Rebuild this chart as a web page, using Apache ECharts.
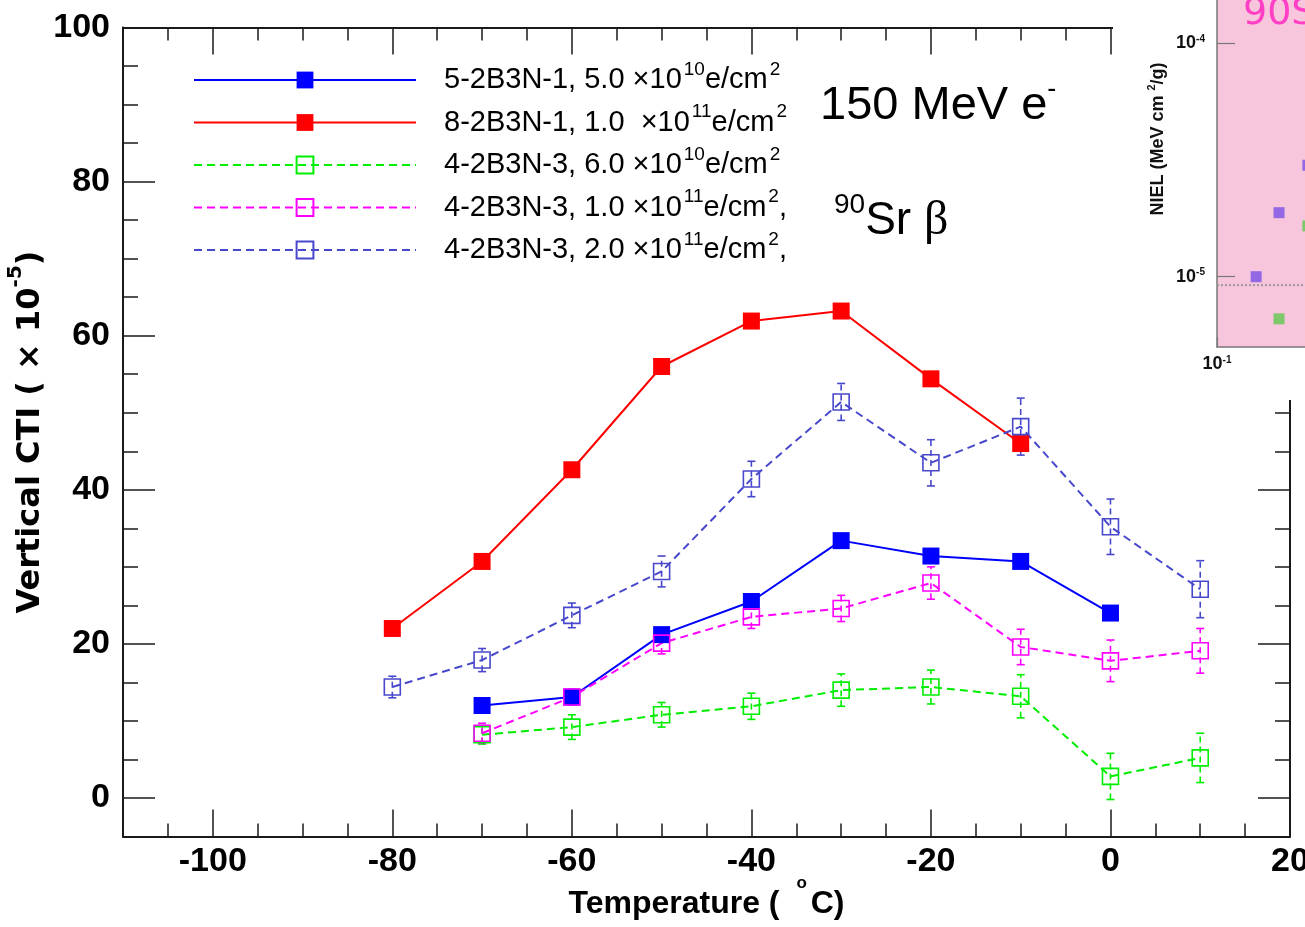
<!DOCTYPE html>
<html><head><meta charset="utf-8">
<script src="https://cdn.jsdelivr.net/npm/echarts@6/dist/echarts.min.js"></script>
<style>html,body{margin:0;padding:0;background:#fff}#c{width:1305px;height:927px}</style>
</head><body><div id="c"></div>
<script>
// ---------- data ----------
const temps = [-80, -70, -60, -50, -40, -30, -20, -10, 0, 10];
const blueVals    = [null, 12.0, 13.1, 21.2, 25.5, 33.4, 31.4, 30.7, 24.0, null];
const redVals     = [22.0, 30.7, 42.6, 56.0, 61.9, 63.2, 54.4, 46.0, null, null];
const greenVals   = [null, 8.2, 9.2, 10.8, 11.9, 14.0, 14.4, 13.2, 2.8, 5.2];
const greenErr    = [null, 1.2, 1.6, 1.6, 1.7, 2.1, 2.2, 2.8, 3.0, 3.2];
const magentaVals = [null, 8.4, 13.1, 20.1, 23.5, 24.6, 27.9, 19.6, 17.8, 19.1];
const magentaErr  = [null, 1.3, 1.0, 1.4, 1.5, 1.7, 2.1, 2.3, 2.7, 2.9];
const slateVals   = [14.4, 17.9, 23.7, 29.4, 41.4, 51.4, 43.5, 48.2, 35.2, 27.1];
const slateErr    = [1.4, 1.5, 1.6, 2.0, 2.3, 2.4, 3.0, 3.7, 3.6, 3.7];
const seriesNames = [
  '5-2B3N-1, 5.0 ×10^10e/cm^2',
  '8-2B3N-1, 1.0 ×10^11e/cm^2',
  '4-2B3N-3, 6.0 ×10^10e/cm^2',
  '4-2B3N-3, 1.0 ×10^11e/cm^2,',
  '4-2B3N-3, 2.0 ×10^11e/cm^2,'
];
const legendLabels = [
  '5-2B3N-1, 5.0 ×10{sup|10}e/cm{sup|2}',
  '8-2B3N-1, 1.0  ×10{sup|11}e/cm{sup|2}',
  '4-2B3N-3, 6.0 ×10{sup|10}e/cm{sup|2}',
  '4-2B3N-3, 1.0 ×10{sup|11}e/cm{sup|2},',
  '4-2B3N-3, 2.0 ×10{sup|11}e/cm{sup|2},'
];
// inset (NIEL plot fragment)
const nielPurpleE = [0.2, 0.3, 0.5];
const nielPurple  = [1.0e-5, 1.88e-5, 3.0e-5];
const nielGreenE  = [0.3, 0.5];
const nielGreen   = [6.6e-6, 1.65e-5];
const nielRefE    = [0.1, 10];
const nielRef     = 9.2e-6;

// ---------- helpers ----------
const AX = '#1a1a1a';
const boldFont = '"Liberation Sans",Arial,sans-serif';
const C = { blue: '#0000ff', red: '#ff0000', green: '#00ee00', magenta: '#ff00ff', slate: '#4848cc' };
function pairs(vals) { return temps.map((t, i) => vals[i] == null ? null : [t, vals[i]]).filter(Boolean); }
function errData(vals, errs) { return temps.map((t, i) => vals[i] == null ? null : [t, vals[i] - errs[i], vals[i] + errs[i]]).filter(Boolean); }
function errSeries(name, vals, errs, color) {
  return {
    name: name, type: 'custom', xAxisIndex: 0, yAxisIndex: 0, silent: true,
    encode: { x: 0, y: [1, 2] },
    data: errData(vals, errs),
    renderItem: function (params, api) {
      const x = api.value(0), lo = api.value(1), hi = api.value(2);
      const p1 = api.coord([x, lo]), p2 = api.coord([x, hi]);
      const dash = { stroke: color, lineWidth: 1.6, lineDash: [6, 4] };
      const solid = { stroke: color, lineWidth: 1.6 };
      return { type: 'group', children: [
        { type: 'line', shape: { x1: p1[0], y1: p1[1], x2: p2[0], y2: p2[1] }, style: dash },
        { type: 'line', shape: { x1: p1[0] - 4, y1: p1[1], x2: p1[0] + 4, y2: p1[1] }, style: solid },
        { type: 'line', shape: { x1: p2[0] - 4, y1: p2[1], x2: p2[0] + 4, y2: p2[1] }, style: solid }
      ]};
    }
  };
}
function filledLine(name, vals, color) {
  return { name: name, type: 'line', xAxisIndex: 0, yAxisIndex: 0, data: pairs(vals),
    symbol: 'rect', symbolSize: 17, lineStyle: { color: color, width: 2 },
    itemStyle: { color: color } };
}
function openLine(name, vals, color) {
  return { name: name, type: 'line', xAxisIndex: 0, yAxisIndex: 0, data: pairs(vals),
    symbol: 'rect', symbolSize: 16, lineStyle: { color: color, width: 2, type: [8, 5] },
    itemStyle: { color: 'rgba(255,255,255,0)', borderColor: color, borderWidth: 1.6 } };
}
const lineAxis = { show: true, onZero: false, lineStyle: { color: AX, width: 2 } };
const tickStyle = { color: AX, width: 1.5 };
const labelStyle = { fontSize: 34, fontWeight: 'bold', fontFamily: boldFont, color: '#000' };
const expFmt = v => '10{s|' + Math.round(Math.log10(v)) + '}';
const insetLabel = { fontSize: 18, fontWeight: 'bold', fontFamily: boldFont, color: '#111',
  rich: { s: { fontSize: 10, fontWeight: 'bold', verticalAlign: 'top', lineHeight: 10, fontFamily: boldFont, color: '#111' } } };

const chart = echarts.init(document.getElementById('c'), null, { renderer: 'canvas' });
chart.setOption({
  animation: false,
  backgroundColor: '#fff',
  grid: [
    { left: 123, right: 15, top: 27.5, bottom: 90.5, outerBoundsMode: 'none', containLabel: false },   // data frame
    { left: 212.8, right: 15, top: 27.5, bottom: 90.5, outerBoundsMode: 'none', containLabel: false }, // x major ticks / labels
    { left: 123, right: 15, top: 27.5, bottom: 129, outerBoundsMode: 'none', containLabel: false },    // y major ticks / labels
    { left: 1217, top: 0, width: 260, height: 347, show: true, backgroundColor: '#f8c6dc',
      borderWidth: 0, borderColor: 'transparent', zlevel: 2, outerBoundsMode: 'none', containLabel: false }  // inset
  ],
  xAxis: [
    { gridIndex: 0, type: 'value', position: 'bottom', min: -110, max: 20, interval: 5,
      axisLine: lineAxis, axisTick: { inside: true, length: 13, lineStyle: tickStyle },
      axisLabel: { show: false }, splitLine: { show: false },
      name: 'Temperature ( {deg|o}C)', nameLocation: 'middle', nameGap: 38,
      nameTextStyle: { fontSize: 32, fontWeight: 'bold', fontFamily: boldFont, color: '#000', lineHeight: 60,
        rich: { deg: { fontSize: 17, fontWeight: 'bold', fontFamily: boldFont, verticalAlign: 'top', lineHeight: 14, padding: [0, 4, 0, 8] } } } },
    { gridIndex: 0, type: 'value', position: 'top', min: -110, max: 20, interval: 5,
      axisLine: lineAxis, axisTick: { inside: true, length: 13, lineStyle: tickStyle },
      axisLabel: { show: false }, splitLine: { show: false } },
    { gridIndex: 1, type: 'value', position: 'bottom', min: -100, max: 20, interval: 20,
      axisLine: { show: false, onZero: false }, axisTick: { inside: true, length: 27, lineStyle: tickStyle },
      axisLabel: Object.assign({ margin: 8 }, labelStyle), splitLine: { show: false } },
    { gridIndex: 1, type: 'value', position: 'top', min: -100, max: 20, interval: 20,
      axisLine: { show: false, onZero: false }, axisTick: { inside: true, length: 27, lineStyle: tickStyle },
      axisLabel: { show: false }, splitLine: { show: false } },
    { gridIndex: 2, type: 'value', show: false, min: -110, max: 20 },
    { gridIndex: 3, type: 'log', logBase: 10, min: 0.1, max: 10, zlevel: 2,
      axisLine: { show: true, onZero: false, lineStyle: { color: '#777', width: 1.5 } },
      axisTick: { inside: true, length: 10, lineStyle: { color: '#777', width: 1.2 } },
      axisLabel: Object.assign({ margin: 8, formatter: expFmt, showMaxLabel: false }, insetLabel),
      splitLine: { show: false } }
  ],
  yAxis: [
    { gridIndex: 0, type: 'value', position: 'left', min: -5, max: 100, interval: 5,
      axisLine: lineAxis, axisTick: { inside: true, length: 15, lineStyle: tickStyle },
      axisLabel: { show: false }, splitLine: { show: false },
      name: 'Vertical CTI ( × 10{sup|-5})', nameLocation: 'middle', nameGap: 67,
      nameTextStyle: { fontSize: 32, fontWeight: 'bold', fontFamily: '"DejaVu Sans",sans-serif', color: '#000', lineHeight: 50,
        rich: { sup: { fontSize: 20, fontWeight: 'bold', fontFamily: '"DejaVu Sans",sans-serif', verticalAlign: 'top', lineHeight: 22 } } } },
    { gridIndex: 0, type: 'value', position: 'right', min: -5, max: 100, interval: 5,
      axisLine: lineAxis, axisTick: { inside: true, length: 15, lineStyle: tickStyle },
      axisLabel: { show: false }, splitLine: { show: false } },
    { gridIndex: 1, type: 'value', show: false, min: -5, max: 100 },
    { gridIndex: 2, type: 'value', position: 'left', min: 0, max: 100, interval: 20,
      axisLine: { show: false, onZero: false }, axisTick: { inside: true, length: 32, lineStyle: tickStyle },
      axisLabel: Object.assign({ margin: 13 }, labelStyle), splitLine: { show: false } },
    { gridIndex: 2, type: 'value', position: 'right', min: 0, max: 100, interval: 20,
      axisLine: { show: false, onZero: false }, axisTick: { inside: true, length: 32, lineStyle: tickStyle },
      axisLabel: { show: false }, splitLine: { show: false } },
    { gridIndex: 3, type: 'log', logBase: 10, min: 5e-6, max: 1.53e-4, zlevel: 2,
      axisLine: { show: true, onZero: false, lineStyle: { color: '#777', width: 1.5 } },
      axisTick: { inside: true, length: 18, lineStyle: { color: '#777', width: 1.2 } },
      axisLabel: Object.assign({ margin: 12, formatter: expFmt, showMinLabel: false, showMaxLabel: false }, insetLabel),
      splitLine: { show: false } }
  ],
  legend: {
    orient: 'vertical', left: 193, top: 60, padding: 0,
    itemWidth: 222, itemHeight: 21, itemGap: 2.5,
    selectedMode: false,
    data: seriesNames,
    formatter: name => legendLabels[seriesNames.indexOf(name)],
    textStyle: { fontSize: 29, fontFamily: boldFont, color: '#000', lineHeight: 40,
      padding: [0, 0, 0, 23],
      rich: { sup: { fontSize: 19, fontFamily: boldFont, color: '#000', verticalAlign: 'top', lineHeight: 22, padding: [0, 0, 0, 2] } } }
  },
  graphic: [
    { type: 'text', x: 820, y: 106, style: { text: '150 MeV e{s|-}', fill: '#000', fontSize: 47,
        fontFamily: boldFont, verticalAlign: 'middle', textVerticalAlign: 'middle', lineHeight: 60,
        rich: { s: { fontSize: 27, fontFamily: boldFont, verticalAlign: 'top', lineHeight: 24 } } } },
    { type: 'text', x: 834, y: 221, style: { text: '{s|90}Sr {b|β}', fill: '#000', fontSize: 46,
        fontFamily: boldFont, verticalAlign: 'middle', textVerticalAlign: 'middle', lineHeight: 60,
        rich: { s: { fontSize: 28, fontFamily: boldFont, verticalAlign: 'top', lineHeight: 28 },
                b: { fontSize: 48, fontFamily: '"Liberation Serif","Times New Roman",serif' } } } },
    { type: 'rect', zlevel: 1, shape: { x: 1113, y: 0, width: 192, height: 400 }, style: { fill: '#fff' } },
    { type: 'text', zlevel: 2, x: 1158, y: 139, rotation: Math.PI / 2,
      style: { text: 'NIEL (MeV cm {s|2}/g)', fill: '#111', fontSize: 18, fontWeight: 'bold', fontFamily: boldFont,
        align: 'center', textAlign: 'center', verticalAlign: 'middle', textVerticalAlign: 'middle', lineHeight: 24,
        rich: { s: { fontSize: 11, fontWeight: 'bold', fontFamily: boldFont, verticalAlign: 'top', lineHeight: 10 } } } },
    { type: 'text', zlevel: 2, x: 1243, y: 14, style: { text: '90Sr', fill: '#ff3fc6', fontSize: 38,
        fontFamily: '"DejaVu Sans",sans-serif', verticalAlign: 'middle', textVerticalAlign: 'middle' } }
  ],
  series: [
    filledLine(seriesNames[0], blueVals, C.blue),
    filledLine(seriesNames[1], redVals, C.red),
    openLine(seriesNames[2], greenVals, C.green),
    errSeries('errGreen', greenVals, greenErr, C.green),
    openLine(seriesNames[3], magentaVals, C.magenta),
    errSeries('errMagenta', magentaVals, magentaErr, C.magenta),
    openLine(seriesNames[4], slateVals, C.slate),
    errSeries('errSlate', slateVals, slateErr, C.slate),
    { name: 'nielRefLine', type: 'line', xAxisIndex: 5, yAxisIndex: 5, zlevel: 2, z: 1, silent: true,
      data: nielRefE.map(e => [e, nielRef]), symbol: 'none',
      lineStyle: { color: '#999', type: 'dotted', width: 2 } },
    { name: 'nielPurple', type: 'scatter', xAxisIndex: 5, yAxisIndex: 5, zlevel: 2, z: 3,
      data: nielPurpleE.map((e, i) => [e, nielPurple[i]]), symbol: 'rect', symbolSize: 11,
      itemStyle: { color: '#7b50e6' } },
    { name: 'nielGreen', type: 'scatter', xAxisIndex: 5, yAxisIndex: 5, zlevel: 2, z: 3,
      data: nielGreenE.map((e, i) => [e, nielGreen[i]]), symbol: 'rect', symbolSize: 11,
      itemStyle: { color: '#5cc84e' } }
  ]
});
</script>
</body></html>
